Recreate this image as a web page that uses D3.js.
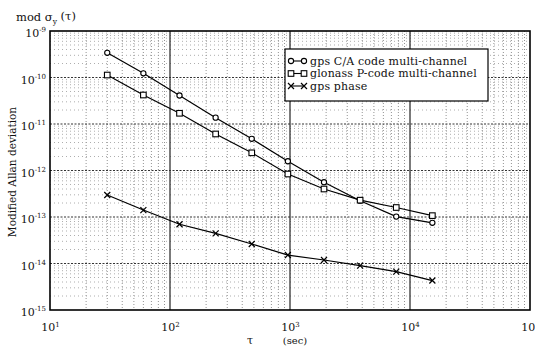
<!DOCTYPE html>
<html><head><meta charset="utf-8">
<script src="https://cdn.jsdelivr.net/npm/d3@7"></script>
<style>
body{margin:0;background:#fff;}
svg{display:block;}
text{font-family:"DejaVu Serif",serif;fill:#111;}
</style></head><body>
<svg id="c" width="535" height="350"></svg>
<script>
const tau = [30,60,120,240,480,960,1920,3840,7680,15360];
const gpsCA = [3.4e-10,1.23e-10,4.1e-11,1.37e-11,4.8e-12,1.58e-12,5.6e-13,2.24e-13,1.02e-13,7.5e-14];
const glonass = [1.13e-10,4.2e-11,1.7e-11,6.1e-12,2.4e-12,8.4e-13,4.0e-13,2.3e-13,1.6e-13,1.07e-13];
const gpsPhase = [2.97e-13,1.41e-13,6.97e-14,4.46e-14,2.63e-14,1.52e-14,1.19e-14,9.0e-15,6.7e-15,4.3e-15];
const seriesNames = ["gps C/A code multi-channel","glonass P-code multi-channel","gps phase"];
const xTickExp = [1,2,3,4,5];
const yTickExp = [-9,-10,-11,-12,-13,-14,-15];

const svg = d3.select("#c");
const L=50,R=530,T=31,B=310;
const x = d3.scaleLog().domain([10,1e5]).range([L,R]);
const y = d3.scaleLog().domain([1e-15,1e-9]).range([B,T]);

// minor grid
const g = svg.append("g");
const minorX=[], minorY=[];
for(let e=1;e<5;e++) for(let m=2;m<10;m++) minorX.push(m*Math.pow(10,e));
for(let e=-15;e<-9;e++) for(let m=2;m<10;m++) minorY.push(m*Math.pow(10,e));
g.selectAll(".mx").data(minorX).join("line")
 .attr("x1",d=>x(d)).attr("x2",d=>x(d)).attr("y1",T).attr("y2",B)
 .attr("stroke","#777").attr("stroke-width",0.8).attr("stroke-dasharray","1,2");
g.selectAll(".my").data(minorY).join("line")
 .attr("y1",d=>y(d)).attr("y2",d=>y(d)).attr("x1",L).attr("x2",R)
 .attr("stroke","#999").attr("stroke-width",0.8).attr("stroke-dasharray","1,3");
// major grid
g.selectAll(".Mx").data(xTickExp.slice(1,4).map(e=>Math.pow(10,e))).join("line")
 .attr("x1",d=>x(d)).attr("x2",d=>x(d)).attr("y1",T).attr("y2",B)
 .attr("stroke","#222").attr("stroke-width",1.2);
g.selectAll(".My").data(yTickExp.slice(1,6).map(e=>Math.pow(10,e))).join("line")
 .attr("y1",d=>y(d)).attr("y2",d=>y(d)).attr("x1",L).attr("x2",R)
 .attr("stroke","#333").attr("stroke-width",1).attr("stroke-dasharray","2,1.5");

// axes
const xAxis = d3.axisBottom(x).tickValues(xTickExp.map(e=>Math.pow(10,e))).tickSize(0).tickPadding(10).tickFormat(()=> "");
const yAxis = d3.axisLeft(y).tickValues(yTickExp.map(e=>Math.pow(10,e))).tickSize(0).tickPadding(5).tickFormat(()=> "");
const gx = svg.append("g").attr("transform",`translate(0,${B})`).call(xAxis);
const gy = svg.append("g").attr("transform",`translate(${L},0)`).call(yAxis);
gx.select(".domain").remove(); gy.select(".domain").remove();
gx.selectAll(".tick text").each(function(d,i){
  const t=d3.select(this).attr("font-size",11).attr("font-family","DejaVu Serif").attr("fill","#111").attr("y",13);
  t.append("tspan").text("10");
  t.append("tspan").attr("font-size",7).attr("dy","-0.6em").text(xTickExp[i]);
});
gy.selectAll(".tick text").each(function(d,i){
  const t=d3.select(this).attr("font-size",11).attr("font-family","DejaVu Serif").attr("fill","#111").attr("dy","0.5em").attr("x",-4);
  t.append("tspan").text("10");
  t.append("tspan").attr("font-size",7).attr("dy","-0.7em").text(yTickExp[i]);
});
// frame
svg.append("rect").attr("x",L).attr("y",T).attr("width",R-L).attr("height",B-T)
 .attr("fill","none").attr("stroke","#000").attr("stroke-width",1.6);

// series
const line = d3.line().x(d=>x(d[0])).y(d=>y(d[1]));
const sets = [gpsCA,glonass,gpsPhase];
const syms = ["circle","square","x"];
function drawSym(sel,type,cx,cy){
  if(type==="circle") sel.append("circle").attr("cx",cx).attr("cy",cy).attr("r",2.6).attr("fill","#fff").attr("stroke","#000").attr("stroke-width",1.1);
  else if(type==="square") sel.append("rect").attr("x",cx-2.8).attr("y",cy-2.8).attr("width",5.6).attr("height",5.6).attr("fill","#fff").attr("stroke","#000").attr("stroke-width",1.1);
  else sel.append("path").attr("d",`M${cx-3},${cy-3}L${cx+3},${cy+3}M${cx-3},${cy+3}L${cx+3},${cy-3}`).attr("stroke","#000").attr("stroke-width",1.2);
}
sets.forEach((vals,si)=>{
  const pts = tau.map((t,i)=>[t,vals[i]]);
  svg.append("path").datum(pts).attr("d",line).attr("fill","none").attr("stroke","#000").attr("stroke-width",1.2);
  const gg = svg.append("g");
  pts.forEach(p=>drawSym(gg,syms[si],x(p[0]),y(p[1])));
});

// legend
const lg = svg.append("g");
lg.append("rect").attr("x",285).attr("y",49).attr("width",203).attr("height",52)
 .attr("fill","#fff").attr("stroke","#000").attr("stroke-width",1.2);
seriesNames.forEach((n,i)=>{
  const yy = 61 + i*12.5;
  lg.append("line").attr("x1",291).attr("x2",304).attr("y1",yy).attr("y2",yy).attr("stroke","#000").attr("stroke-width",1.1);
  drawSym(lg,syms[i],291,yy); drawSym(lg,syms[i],304,yy);
  lg.append("text").attr("x",310).attr("y",yy+3.8).attr("font-size",11).attr("letter-spacing",0.15).text(n);
});

// axis titles
const tt = svg.append("text").attr("x",16).attr("y",21).attr("font-size",11.5);
tt.append("tspan").text("mod σ");
tt.append("tspan").attr("font-size",7.5).attr("dy","0.35em").text("y");
tt.append("tspan").attr("dy","-0.35em").text(" (τ)");
svg.append("text").attr("transform","translate(16,172) rotate(-90)").attr("text-anchor","middle").attr("font-size",10.5).text("Modified Allan deviation");
svg.append("text").attr("x",250).attr("y",344).attr("text-anchor","middle").attr("font-size",11).text("τ");
svg.append("text").attr("x",295).attr("y",344).attr("text-anchor","middle").attr("font-size",10).text("(sec)");
</script></body></html>
